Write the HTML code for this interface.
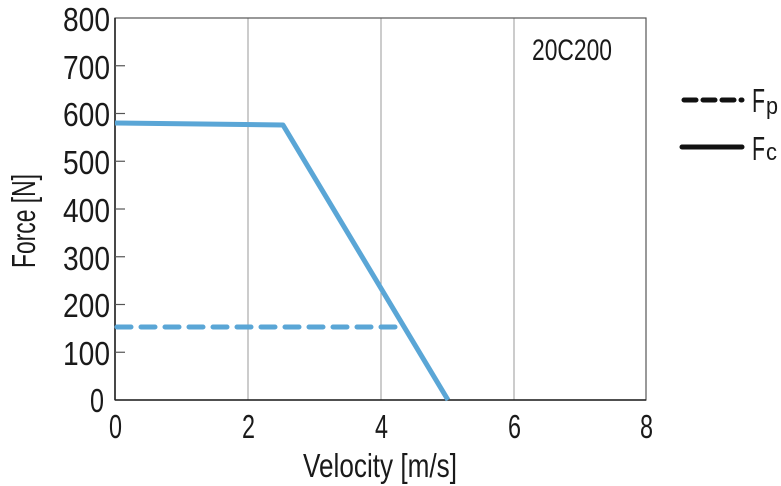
<!DOCTYPE html>
<html><head><style>body{margin:0;background:#fff}svg{display:block}</style></head><body>
<svg width="781" height="486" viewBox="0 0 781 486" xmlns="http://www.w3.org/2000/svg" font-family="'Liberation Sans Narrow','Liberation Sans',sans-serif" fill="#1a1a1a">
<g stroke="#aaa" stroke-width="1.2">
<line x1="248" y1="18" x2="248" y2="400"/>
<line x1="381" y1="18" x2="381" y2="400"/>
<line x1="514" y1="18" x2="514" y2="400"/>
</g>
<rect x="115" y="18" width="531" height="382" fill="none" stroke="#555" stroke-width="1.2"/>
<line x1="115" y1="18" x2="115" y2="400" stroke="#222" stroke-width="1.6"/>
<line x1="115" y1="400" x2="646" y2="400" stroke="#222" stroke-width="1.6"/>
<g stroke="#555" stroke-width="1.2">
<line x1="115" y1="65.75" x2="125" y2="65.75"/><line x1="115" y1="113.5" x2="125" y2="113.5"/>
<line x1="115" y1="161.25" x2="125" y2="161.25"/><line x1="115" y1="209" x2="125" y2="209"/>
<line x1="115" y1="256.75" x2="125" y2="256.75"/><line x1="115" y1="304.5" x2="125" y2="304.5"/>
<line x1="115" y1="352.25" x2="125" y2="352.25"/>
</g>
<g font-size="33" text-anchor="end">
<text x="110" y="31" textLength="47" lengthAdjust="spacingAndGlyphs">800</text>
<text x="110" y="79" textLength="47" lengthAdjust="spacingAndGlyphs">700</text>
<text x="110" y="126" textLength="47" lengthAdjust="spacingAndGlyphs">600</text>
<text x="110" y="174" textLength="47" lengthAdjust="spacingAndGlyphs">500</text>
<text x="110" y="222" textLength="47" lengthAdjust="spacingAndGlyphs">400</text>
<text x="110" y="270" textLength="47" lengthAdjust="spacingAndGlyphs">300</text>
<text x="110" y="317" textLength="47" lengthAdjust="spacingAndGlyphs">200</text>
<text x="110" y="365" textLength="47" lengthAdjust="spacingAndGlyphs">100</text>
<text x="104" y="412" textLength="14" lengthAdjust="spacingAndGlyphs">0</text>
</g>
<g font-size="33">
<text x="109" y="438" textLength="13" lengthAdjust="spacingAndGlyphs">0</text>
<text x="242" y="438" textLength="13" lengthAdjust="spacingAndGlyphs">2</text>
<text x="375" y="438" textLength="13" lengthAdjust="spacingAndGlyphs">4</text>
<text x="508" y="438" textLength="13" lengthAdjust="spacingAndGlyphs">6</text>
<text x="640" y="438" textLength="13" lengthAdjust="spacingAndGlyphs">8</text>
</g>
<text x="303" y="477" font-size="33" textLength="154" lengthAdjust="spacingAndGlyphs">Velocity [m/s]</text>
<text transform="translate(35,268) rotate(-90)" font-size="33" textLength="94" lengthAdjust="spacingAndGlyphs">Force [N]</text>
<text x="532" y="60" font-size="30" textLength="80" lengthAdjust="spacingAndGlyphs">20C200</text>
<polyline points="115,123 283,125 448,400" fill="none" stroke="#5aa6d6" stroke-width="5" stroke-linejoin="round"/>
<line x1="117" y1="327" x2="400" y2="327" stroke="#5aa6d6" stroke-width="5" stroke-dasharray="14,10" stroke-linecap="round"/>
<line x1="684" y1="100" x2="742" y2="100" stroke="#111" stroke-width="5" stroke-dasharray="12,7" stroke-linecap="round"/>
<line x1="682" y1="147" x2="742" y2="147" stroke="#111" stroke-width="5" stroke-linecap="round"/>
<text x="752" y="112" font-size="33" textLength="13" lengthAdjust="spacingAndGlyphs">F</text><text x="766" y="114" font-size="24" textLength="12" lengthAdjust="spacingAndGlyphs">p</text>
<text x="752" y="160" font-size="33" textLength="13" lengthAdjust="spacingAndGlyphs">F</text><text x="766" y="160" font-size="24" textLength="11" lengthAdjust="spacingAndGlyphs">c</text>
</svg>
</body></html>
